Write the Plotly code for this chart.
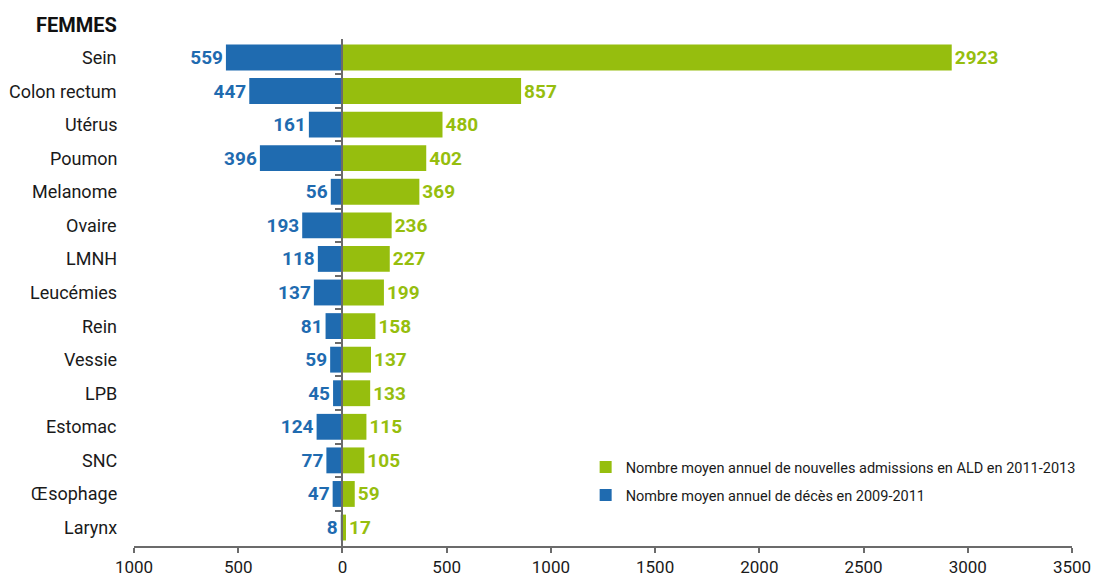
import plotly.graph_objects as go

categories = ["Sein", "Colon rectum", "Utérus", "Poumon", "Melanome", "Ovaire", "LMNH",
              "Leucémies", "Rein", "Vessie", "LPB", "Estomac", "SNC", "Œsophage", "Larynx"]
deces = [559, 447, 161, 396, 56, 193, 118, 137, 81, 59, 45, 124, 77, 47, 8]
ald = [2923, 857, 480, 402, 369, 236, 227, 199, 158, 137, 133, 115, 105, 59, 17]
tick_vals = [-1000, -500, 0, 500, 1000, 1500, 2000, 2500, 3000, 3500]
tick_text = ["1000", "500", "0", "500", "1000", "1500", "2000", "2500", "3000", "3500"]
legend_ald = "Nombre moyen annuel de nouvelles admissions en ALD en 2011-2013"
legend_deces = "Nombre moyen annuel de décès en 2009-2011"
title = "FEMMES"

BLUE = "#1F6BB0"
GREEN = "#96BE0E"
FONT = "Roboto, Liberation Sans, sans-serif"

fig = go.Figure()
fig.add_trace(go.Bar(
    y=categories, x=ald, orientation="h", name=legend_ald, legendgroup="a",
    marker=dict(color=GREEN, line=dict(width=0)), width=0.77,
    text=[str(v) for v in ald], textposition="outside",
    textfont=dict(color=GREEN, size=19, family=FONT, weight="bold"),
    cliponaxis=False,
))
fig.add_trace(go.Bar(
    y=categories, x=[-v for v in deces], orientation="h", name=legend_deces, legendgroup="b",
    marker=dict(color=BLUE, line=dict(width=0)), width=0.77,
    text=[str(v) for v in deces], textposition="outside",
    textfont=dict(color=BLUE, size=19, family=FONT, weight="bold"),
    cliponaxis=False,
))

n = len(categories)
zero_pos = (0 - tick_vals[0]) / (tick_vals[-1] - tick_vals[0])

fig.update_layout(
    width=1096, height=578,
    margin=dict(l=134, r=24, t=39, b=32, autoexpand=False),
    paper_bgcolor="white", plot_bgcolor="white",
    barmode="relative",
    font=dict(family=FONT, size=18, color="#1a1a1a"),
    showlegend=True,
    legend=dict(x=0.4815, y=0.187, xanchor="left", yanchor="top",
                font=dict(size=14.5, family=FONT, color="#1a1a1a"),
                bgcolor="rgba(0,0,0,0)", traceorder="grouped",
                itemwidth=30, tracegroupgap=6),
    xaxis=dict(range=[tick_vals[0], tick_vals[-1]], tickvals=tick_vals, ticktext=tick_text,
               showgrid=False, zeroline=False, showline=True, linecolor="#6b6b6b", linewidth=2,
               ticks="outside", ticklen=5, tickwidth=2, tickcolor="#6b6b6b",
               tickfont=dict(size=17, family=FONT, color="#1a1a1a")),
    yaxis=dict(categoryorder="array", categoryarray=categories, autorange=False,
               range=[n - 0.45, -0.55],
               anchor="free", position=zero_pos, showline=True, linecolor="#6b6b6b", linewidth=2,
               showgrid=False, zeroline=False, showticklabels=False,
               tickmode="array", tickvals=[i + 0.5 for i in range(n - 1)],
               ticks="outside", ticklen=6, tickwidth=2, tickcolor="#6b6b6b"),
)

for c in categories:
    fig.add_annotation(x=0, xref="paper", y=c, yref="y", text=c, showarrow=False,
                       xanchor="right", xshift=-15, font=dict(size=18, family=FONT, color="#1a1a1a"))

fig.add_annotation(x=0, xref="paper", y=1, yref="paper", text="<b>" + title + "</b>", showarrow=False,
                   xanchor="right", yanchor="bottom", xshift=-15, yshift=0,
                   font=dict(size=20, family=FONT, color="#111111"))

fig.write_html("out.html", config={"displayModeBar": False},
               post_script="document.body.style.margin='0';")
